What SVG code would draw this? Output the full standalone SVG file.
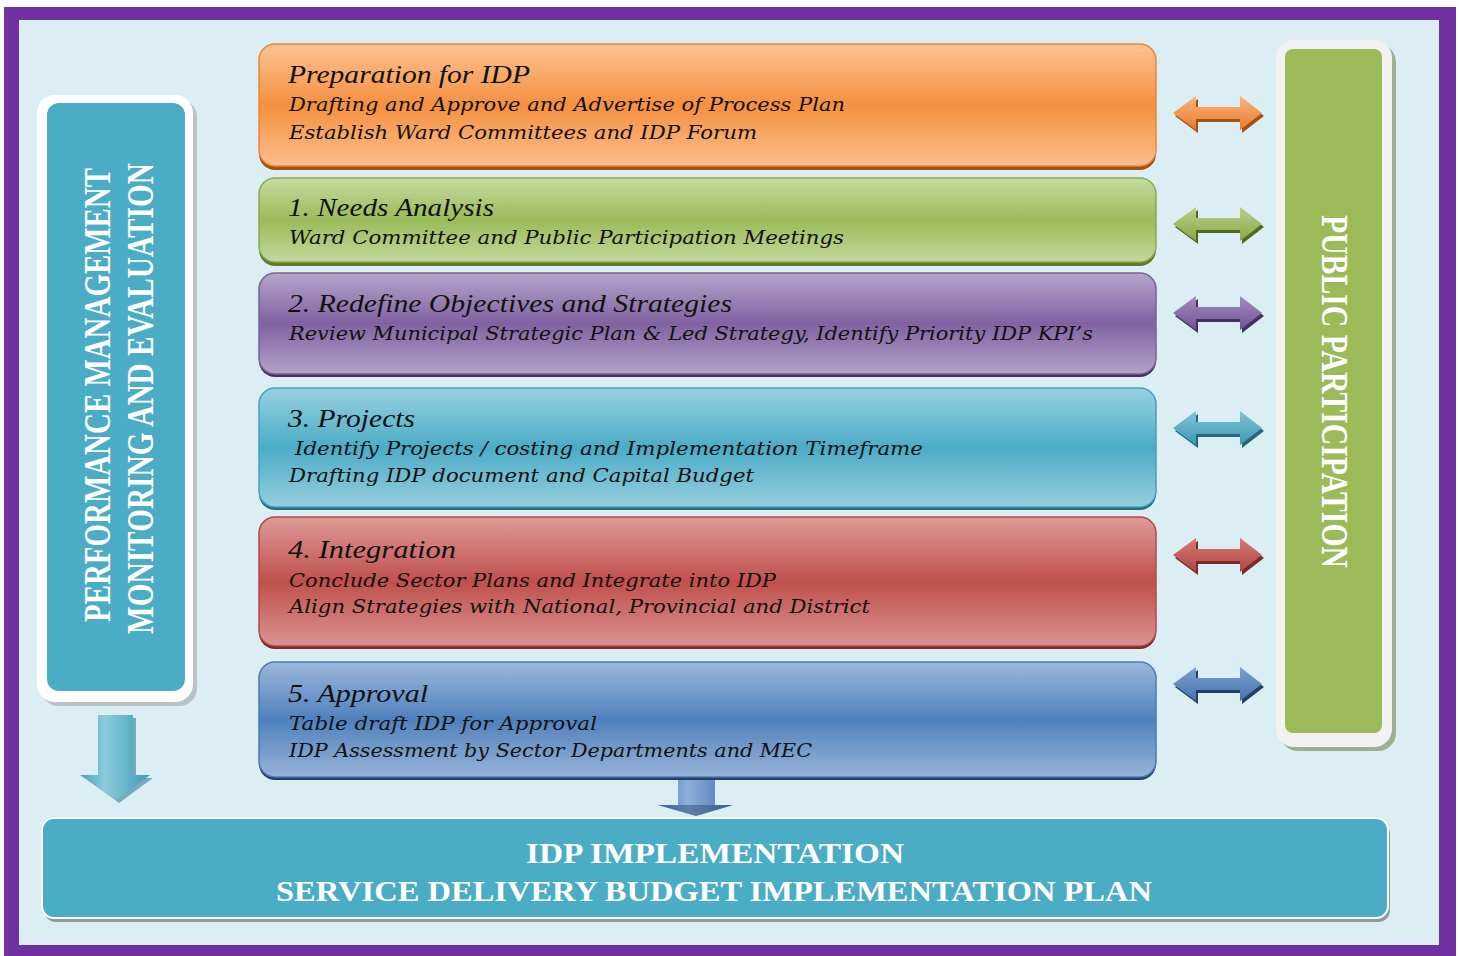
<svg xmlns="http://www.w3.org/2000/svg" width="1459" height="956" viewBox="0 0 1459 956">
<defs>
<linearGradient id="gO" x1="0" y1="0" x2="0" y2="1"><stop offset="0" stop-color="#FBC393"/><stop offset="0.5" stop-color="#F5903F"/><stop offset="1" stop-color="#FBBE8C"/></linearGradient>
<linearGradient id="gG" x1="0" y1="0" x2="0" y2="1"><stop offset="0" stop-color="#C6DAA0"/><stop offset="0.5" stop-color="#9BBB59"/><stop offset="1" stop-color="#C4D89C"/></linearGradient>
<linearGradient id="gP" x1="0" y1="0" x2="0" y2="1"><stop offset="0" stop-color="#B5A5CA"/><stop offset="0.5" stop-color="#7F63A1"/><stop offset="1" stop-color="#B3A2C8"/></linearGradient>
<linearGradient id="gT" x1="0" y1="0" x2="0" y2="1"><stop offset="0" stop-color="#98D1E0"/><stop offset="0.5" stop-color="#4BACC6"/><stop offset="1" stop-color="#96CEDD"/></linearGradient>
<linearGradient id="gR" x1="0" y1="0" x2="0" y2="1"><stop offset="0" stop-color="#DE9B99"/><stop offset="0.5" stop-color="#C0504D"/><stop offset="1" stop-color="#DA9391"/></linearGradient>
<linearGradient id="gB" x1="0" y1="0" x2="0" y2="1"><stop offset="0" stop-color="#9DB8DB"/><stop offset="0.5" stop-color="#4F81BD"/><stop offset="1" stop-color="#97B3D7"/></linearGradient>
<linearGradient id="aO" x1="0" y1="0" x2="0" y2="1"><stop offset="0" stop-color="#FBB57E"/><stop offset="1" stop-color="#E9782C"/></linearGradient>
<linearGradient id="aG" x1="0" y1="0" x2="0" y2="1"><stop offset="0" stop-color="#B9D186"/><stop offset="1" stop-color="#88A84A"/></linearGradient>
<linearGradient id="aP" x1="0" y1="0" x2="0" y2="1"><stop offset="0" stop-color="#A48EC0"/><stop offset="1" stop-color="#6E5291"/></linearGradient>
<linearGradient id="aT" x1="0" y1="0" x2="0" y2="1"><stop offset="0" stop-color="#7FC4D8"/><stop offset="1" stop-color="#3C9AB4"/></linearGradient>
<linearGradient id="aR" x1="0" y1="0" x2="0" y2="1"><stop offset="0" stop-color="#D47A77"/><stop offset="1" stop-color="#B14643"/></linearGradient>
<linearGradient id="aB" x1="0" y1="0" x2="0" y2="1"><stop offset="0" stop-color="#7CA1D0"/><stop offset="1" stop-color="#4573AD"/></linearGradient>
<linearGradient id="dT" x1="0" y1="0" x2="1" y2="0"><stop offset="0" stop-color="#3FA3BE"/><stop offset="0.35" stop-color="#8DCCDD"/><stop offset="1" stop-color="#3C9AB4"/></linearGradient>
<linearGradient id="dB" x1="0" y1="0" x2="1" y2="0"><stop offset="0" stop-color="#4A7CB9"/><stop offset="0.4" stop-color="#8EAEDA"/><stop offset="1" stop-color="#4573AD"/></linearGradient>
<path id="dbl" d="M0,0 L23,-17 L23,-6 L67,-6 L67,-17 L89,0 L67,17 L67,6 L23,6 L23,17 Z"/>
</defs>
<style>
.t{font-family:"Liberation Serif","Times New Roman",serif;font-style:italic;font-size:26px;fill:#111;}
.s{font-family:"DejaVu Serif","Liberation Serif",serif;font-style:italic;font-size:19px;fill:#111;}
.w{font-family:"Liberation Serif","Times New Roman",serif;font-weight:bold;fill:#fff;}
</style>
<rect x="4" y="7" width="1452" height="956" fill="#7030A0"/>
<rect x="19" y="20" width="1420" height="925" fill="#DBEEF4"/>

<g id="performance-box">
<rect x="41" y="99" width="156" height="607" rx="18" fill="#B9C2C6"/>
<rect x="37" y="95" width="156" height="607" rx="18" fill="#FFFFFF"/>
<rect x="47" y="103" width="138" height="588" rx="12" fill="#4BACC6"/>
<text class="w" font-size="38" transform="translate(110,622) rotate(-90)" textLength="454" lengthAdjust="spacingAndGlyphs">PERFORMANCE MANAGEMENT</text>
<text class="w" font-size="38" transform="translate(153,634) rotate(-90)" textLength="471" lengthAdjust="spacingAndGlyphs">MONITORING AND EVALUATION</text>
</g>

<g id="public-box">
<rect x="1280" y="44" width="116" height="707" rx="18" fill="#9FB08E"/>
<rect x="1276" y="40" width="116" height="707" rx="18" fill="#F2F2F2"/>
<rect x="1285" y="49" width="97" height="684" rx="8" fill="#9BBB59"/>
<text class="w" font-size="38" transform="translate(1322,215) rotate(90)" textLength="353" lengthAdjust="spacingAndGlyphs">PUBLIC PARTICIPATION</text>
</g>

<g id="connectors">
<g transform="translate(1173,113)"><use href="#dbl" transform="translate(2,3)" fill="#A0520F"/><use href="#dbl" fill="url(#aO)"/></g>
<g transform="translate(1173,224)"><use href="#dbl" transform="translate(2,3)" fill="#4E6B25"/><use href="#dbl" fill="url(#aG)"/></g>
<g transform="translate(1173,313)"><use href="#dbl" transform="translate(2,3)" fill="#463060"/><use href="#dbl" fill="url(#aP)"/></g>
<g transform="translate(1173,428)"><use href="#dbl" transform="translate(2,3)" fill="#25687A"/><use href="#dbl" fill="url(#aT)"/></g>
<g transform="translate(1173,555)"><use href="#dbl" transform="translate(2,3)" fill="#7A2A28"/><use href="#dbl" fill="url(#aR)"/></g>
<g transform="translate(1173,684)"><use href="#dbl" transform="translate(2,3)" fill="#243F63"/><use href="#dbl" fill="url(#aB)"/></g>
<path d="M101,718 L136,718 L136,778 L153,778 L119,803 L85,778 L101,778 Z" fill="#2E8099" opacity="0.6"/>
<path d="M98,715 L133,715 L133,775 L150,775 L116,800 L80,775 L98,775 Z" fill="url(#dT)"/>
<path d="M678,773 L715,773 L715,805 L733,805 L696,816 L658,805 L678,805 Z" fill="url(#dB)"/>
<path d="M658,805 L733,805 L696,816 Z" fill="#2C4E78" opacity="0.5"/>
</g>

<g id="prep">
<rect x="259" y="47" width="897" height="123" rx="16" fill="#A0520F"/>
<rect x="259" y="44" width="897" height="122" rx="16" fill="url(#gO)" stroke="#E8873A" stroke-width="1.5"/>
<text class="t" x="288" y="83" textLength="242" lengthAdjust="spacingAndGlyphs">Preparation for IDP</text>
<text class="s" x="289" y="111" textLength="556" lengthAdjust="spacingAndGlyphs">Drafting and Approve and Advertise of Process Plan</text>
<text class="s" x="289" y="139" textLength="468" lengthAdjust="spacingAndGlyphs">Establish Ward Committees and IDP Forum</text>
</g>

<g id="needs">
<rect x="259" y="181" width="897" height="85" rx="16" fill="#5E7A2B"/>
<rect x="259" y="178" width="897" height="84" rx="16" fill="url(#gG)" stroke="#8AAA4C" stroke-width="1.5"/>
<text class="t" x="288" y="216" textLength="206" lengthAdjust="spacingAndGlyphs">1. Needs Analysis</text>
<text class="s" x="289" y="244" textLength="555" lengthAdjust="spacingAndGlyphs">Ward Committee and Public Participation Meetings</text>
</g>

<g id="redefine">
<rect x="259" y="276" width="897" height="101" rx="16" fill="#463060"/>
<rect x="259" y="273" width="897" height="101" rx="16" fill="url(#gP)" stroke="#7A5F99" stroke-width="1.5"/>
<text class="t" x="288" y="312" textLength="444" lengthAdjust="spacingAndGlyphs">2. Redefine Objectives and Strategies</text>
<text class="s" x="289" y="340" textLength="804" lengthAdjust="spacingAndGlyphs">Review Municipal Strategic Plan &amp; Led Strategy, Identify Priority IDP KPI’s</text>
</g>

<g id="projects">
<rect x="259" y="391" width="897" height="119" rx="16" fill="#25687A"/>
<rect x="259" y="388" width="897" height="119" rx="16" fill="url(#gT)" stroke="#45A0BA" stroke-width="1.5"/>
<text class="t" x="288" y="427" textLength="127" lengthAdjust="spacingAndGlyphs">3. Projects</text>
<text class="s" x="295" y="455" textLength="628" lengthAdjust="spacingAndGlyphs">Identify Projects / costing and Implementation Timeframe</text>
<text class="s" x="289" y="482" textLength="465" lengthAdjust="spacingAndGlyphs">Drafting IDP document and Capital Budget</text>
</g>

<g id="integration">
<rect x="259" y="520" width="897" height="129" rx="16" fill="#7A2A28"/>
<rect x="259" y="517" width="897" height="129" rx="16" fill="url(#gR)" stroke="#B04A47" stroke-width="1.5"/>
<text class="t" x="288" y="558" textLength="168" lengthAdjust="spacingAndGlyphs">4. Integration</text>
<text class="s" x="289" y="587" textLength="487" lengthAdjust="spacingAndGlyphs">Conclude Sector Plans and Integrate into IDP</text>
<text class="s" x="289" y="613" textLength="581" lengthAdjust="spacingAndGlyphs">Align Strategies with National, Provincial and District</text>
</g>

<g id="approval">
<rect x="259" y="665" width="897" height="115" rx="16" fill="#243F63"/>
<rect x="259" y="662" width="897" height="115" rx="16" fill="url(#gB)" stroke="#4A79B2" stroke-width="1.5"/>
<text class="t" x="288" y="702" textLength="140" lengthAdjust="spacingAndGlyphs">5. Approval</text>
<text class="s" x="289" y="730" textLength="308" lengthAdjust="spacingAndGlyphs">Table draft IDP for Approval</text>
<text class="s" x="289" y="757" textLength="523" lengthAdjust="spacingAndGlyphs">IDP Assessment by Sector Departments and MEC</text>
</g>

<g id="implementation">
<rect x="44" y="822" width="1346" height="100" rx="12" fill="#8C9A9E"/>
<rect x="42" y="818" width="1346" height="100" rx="12" fill="#4BACC6" stroke="#FFFFFF" stroke-width="2"/>
<text class="w" font-size="30" x="715" y="863" text-anchor="middle" textLength="378" lengthAdjust="spacingAndGlyphs">IDP IMPLEMENTATION</text>
<text class="w" font-size="30" x="714" y="901" text-anchor="middle" textLength="876" lengthAdjust="spacingAndGlyphs">SERVICE DELIVERY BUDGET IMPLEMENTATION PLAN</text>
</g>
</svg>
